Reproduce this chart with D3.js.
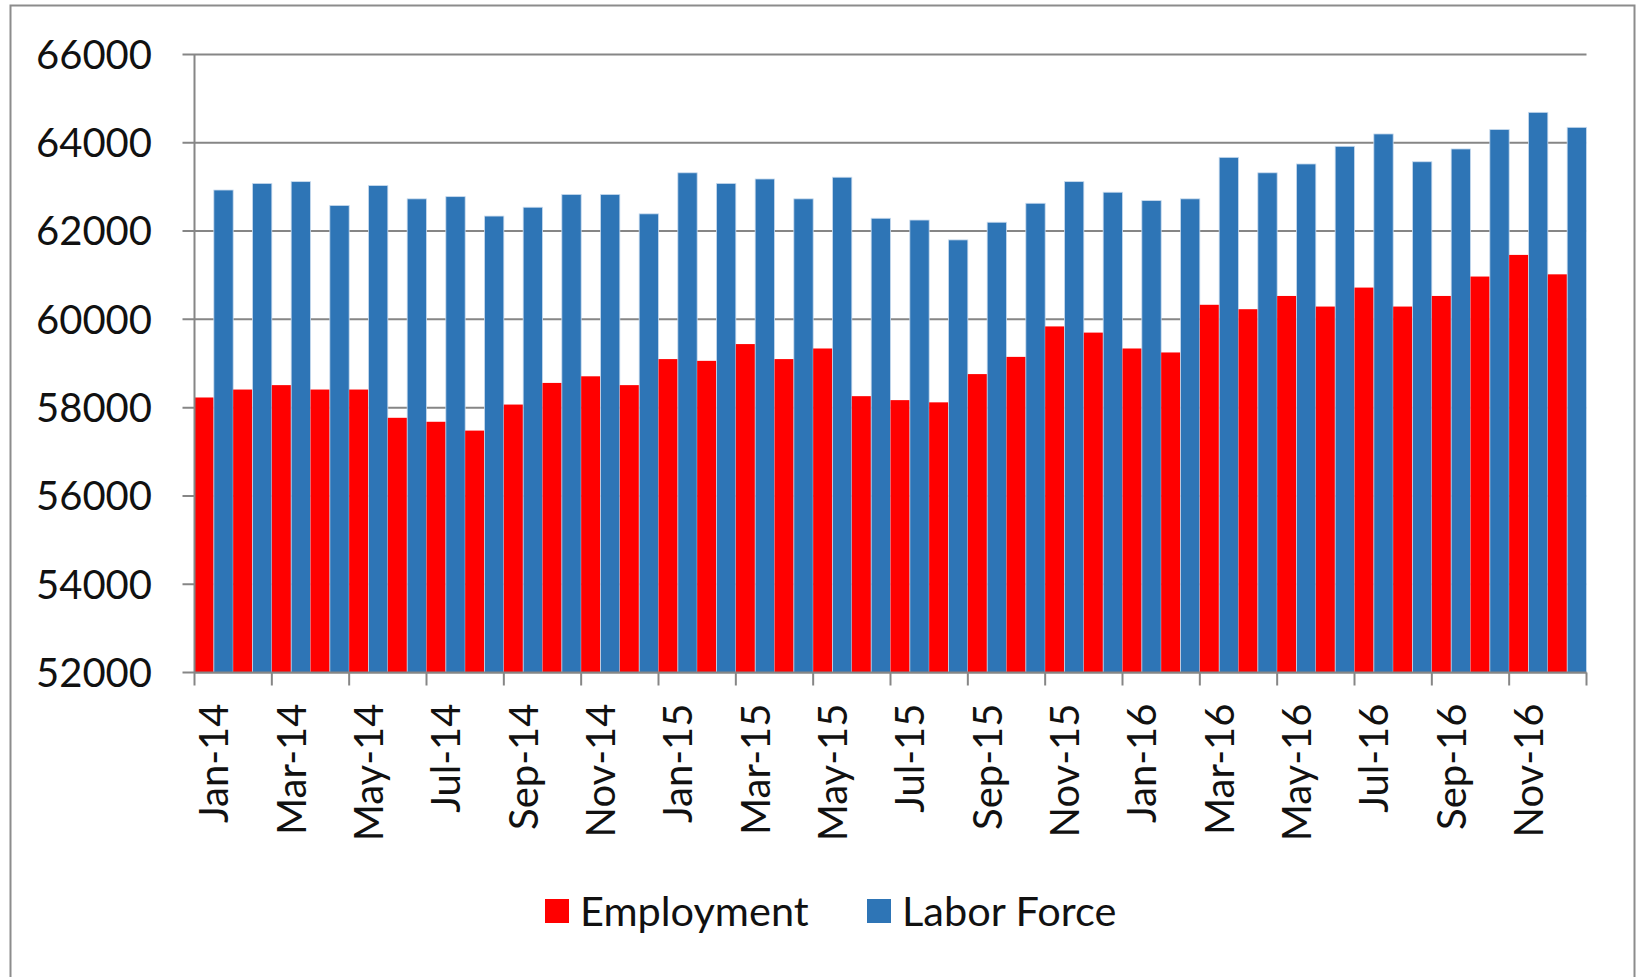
<!DOCTYPE html>
<html>
<head>
<meta charset="utf-8">
<script src="https://cdn.jsdelivr.net/npm/d3@7"></script>
<style>
  body { margin: 0; background: #fff; }
  svg { display: block; font-family: Lato, "Open Sans", sans-serif; }
</style>
</head>
<body>
<svg id="chart"></svg>
<script>
// 月份标签
const months = [
  "Jan-14","Feb-14","Mar-14","Apr-14","May-14","Jun-14","Jul-14","Aug-14","Sep-14","Oct-14","Nov-14","Dec-14",
  "Jan-15","Feb-15","Mar-15","Apr-15","May-15","Jun-15","Jul-15","Aug-15","Sep-15","Oct-15","Nov-15","Dec-15",
  "Jan-16","Feb-16","Mar-16","Apr-16","May-16","Jun-16","Jul-16","Aug-16","Sep-16","Oct-16","Nov-16","Dec-16"
];

// 就业人数
const employment = [
  58230, 58410, 58510, 58410, 58410, 57770, 57680, 57480, 58070, 58560, 58710, 58510,
  59100, 59060, 59440, 59100, 59340, 58260, 58170, 58120, 58760, 59150, 59840, 59700,
  59340, 59250, 60330, 60230, 60530, 60290, 60720, 60290, 60530, 60970, 61460, 61020
];

// 劳动力
const laborForce = [
  62930, 63080, 63120, 62580, 63030, 62730, 62780, 62340, 62540, 62830, 62830, 62390,
  63320, 63080, 63180, 62730, 63220, 62290, 62250, 61800, 62200, 62630, 63120, 62880,
  62690, 62730, 63670, 63320, 63520, 63920, 64200, 63570, 63860, 64300, 64690, 64350
];

const seriesNames = ["Employment", "Labor Force"];
const seriesColors = ["#ff0000", "#2e75b6"];
const yTicks = [52000, 54000, 56000, 58000, 60000, 62000, 64000, 66000];

const W = 1640, H = 977;
const plot = { left: 194.5, right: 1586.5, top: 54.5, bottom: 672.5 };

const svg = d3.select("#chart").attr("width", W).attr("height", H);

// 外框
svg.append("rect")
  .attr("x", 10.5).attr("y", 5.5)
  .attr("width", 1624).attr("height", 990)
  .attr("fill", "none").attr("stroke", "#8c8c8c").attr("stroke-width", 2);

const x = d3.scaleBand().domain(months).range([plot.left, plot.right]).padding(0);
const xs = d3.scaleBand().domain(seriesNames).range([0, x.bandwidth()]).padding(0);
const y = d3.scaleLinear().domain([52000, 66000]).range([plot.bottom, plot.top]);

// 网格线
svg.append("g")
  .selectAll("line")
  .data(yTicks)
  .join("line")
    .attr("x1", plot.left - 12).attr("x2", plot.right)
    .attr("y1", d => y(d)).attr("y2", d => y(d))
    .attr("stroke", "#868686").attr("stroke-width", 2);

// y 轴标签
svg.append("g")
  .selectAll("text")
  .data(yTicks)
  .join("text")
    .attr("x", 152)
    .attr("y", d => y(d))
    .attr("dy", "0.36em")
    .attr("text-anchor", "end")
    .attr("font-size", 40)
    .attr("fill", "#111")
    .text(d => d);

// 柱子
const rows = months.map((m, i) => ({ month: m, values: [employment[i], laborForce[i]] }));

const groups = svg.append("g")
  .selectAll("g")
  .data(rows)
  .join("g")
    .attr("transform", d => `translate(${x(d.month)},0)`);

groups.selectAll("rect")
  .data(d => d.values.map((v, k) => ({ key: seriesNames[k], value: v, k })))
  .join("rect")
    .attr("x", d => xs(d.key))
    .attr("y", d => y(d.value))
    .attr("width", xs.bandwidth())
    .attr("height", d => y(52000) - y(d.value))
    .attr("fill", d => seriesColors[d.k])
    .attr("stroke", d => d.k === 1 ? "#c9dbee" : "none")
    .attr("stroke-width", 0.8);

// 坐标轴线
svg.append("line")
  .attr("x1", plot.left).attr("x2", plot.left)
  .attr("y1", plot.top).attr("y2", plot.bottom)
  .attr("stroke", "#868686").attr("stroke-width", 2);
svg.append("line")
  .attr("x1", plot.left).attr("x2", plot.right)
  .attr("y1", plot.bottom).attr("y2", plot.bottom)
  .attr("stroke", "#868686").attr("stroke-width", 2);

// x 轴刻度（每两个月一个）
const tickMonths = months.filter((m, i) => i % 2 === 0);
svg.append("g")
  .selectAll("line")
  .data([...tickMonths.map(m => x(m)), plot.right])
  .join("line")
    .attr("x1", d => d).attr("x2", d => d)
    .attr("y1", plot.bottom).attr("y2", plot.bottom + 13)
    .attr("stroke", "#868686").attr("stroke-width", 2);

// x 轴标签
svg.append("g")
  .selectAll("text")
  .data(tickMonths)
  .join("text")
    .attr("transform", d => `translate(${x(d) + x.bandwidth() / 2},${plot.bottom + 31}) rotate(-90)`)
    .attr("dy", "0.36em")
    .attr("text-anchor", "end")
    .attr("font-size", 40)
    .attr("fill", "#111")
    .text(d => d);

// 图例
const legendPos = [545, 867];
const legend = svg.append("g")
  .selectAll("g")
  .data(seriesNames)
  .join("g")
    .attr("transform", (d, i) => `translate(${legendPos[i]},899)`);
legend.append("rect")
  .attr("width", 24).attr("height", 24)
  .attr("fill", (d, i) => seriesColors[i]);
legend.append("text")
  .attr("x", 35).attr("y", 12)
  .attr("dy", "0.36em")
  .attr("font-size", 41.5)
  .attr("fill", "#111")
  .text(d => d);
</script>
</body>
</html>
